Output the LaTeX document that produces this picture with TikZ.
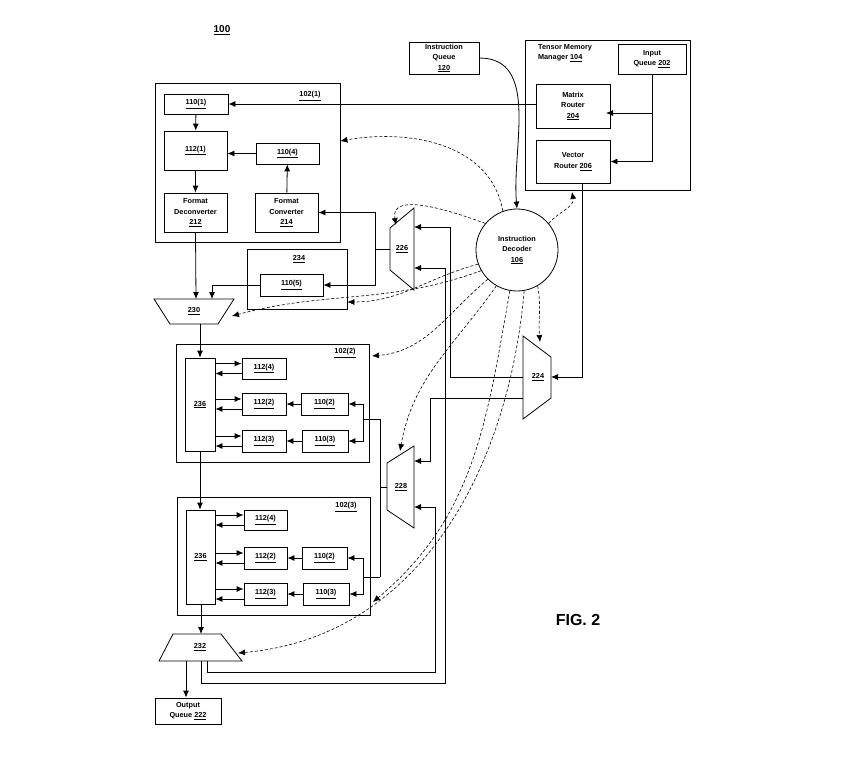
\documentclass[tikz,border=0pt]{standalone}
\usepackage{fontspec}
\setmainfont{Liberation Sans}
\usetikzlibrary{arrows.meta,calc,positioning}

\tikzset{
  box/.style={draw, thick, align=center, inner sep=0pt, font=\bfseries\fontsize{7.3}{10.5}\selectfont},
  lbl/.style={inner sep=0pt, font=\bfseries\fontsize{7.3}{10.5}\selectfont},
  arr/.style={-{Latex[length=7pt,width=6pt]}, thick},
  ctl/.style={arr, densely dashed, semithick}
}

\begin{document}
\begin{tikzpicture}[x=1pt,y=-1pt]
\useasboundingbox (0,0) rectangle (843,761);

\node[lbl, font=\bfseries\fontsize{10}{11}\selectfont] (fig) at (222,30) {\underline{100}};
\node[inner sep=0pt, font=\bfseries\fontsize{16}{17}\selectfont] (figno) at (578,620) {FIG. 2};

% memory manager side
\node[box, minimum width=70, minimum height=32] (iq) at (444,58) {Instruction\\Queue\\\underline{120}};
\node[box, minimum width=165, minimum height=150] (tmm) at (607.5,115) {};
\node[lbl, align=left] (tmmlbl) at (565,53) {Tensor Memory\\Manager \underline{104}};
\node[box, minimum width=68, minimum height=30] (inq) at (652,59) {Input\\Queue \underline{202}};
\node[box, minimum width=74, minimum height=44] (mrt) at (573,106) {Matrix\\Router\\\underline{204}};
\node[box, minimum width=74, minimum height=43] (vrt) at (573,161.5) {Vector\\Router \underline{206}};
\node[box, circle, minimum size=82] (dec) at (517,250) {Instruction\\Decoder\\\underline{106}};

% tile 102(1)
\node[box, minimum width=185, minimum height=159] (p1) at (247.5,162.5) {};
\node[lbl] (p1lbl) at (310,96) {\underline{102(1)}};
\node[box, minimum width=64, minimum height=20] (q1) at (196,104) {\underline{110(1)}};
\node[box, minimum width=63, minimum height=39] (m1) at (195.5,150.5) {\underline{112(1)}};
\node[box, minimum width=63, minimum height=21] (q4) at (287.5,153.5) {\underline{110(4)}};
\node[box, minimum width=63, minimum height=39] (fd) at (195.5,212.5) {Format\\Deconverter\\\underline{212}};
\node[box, minimum width=63, minimum height=39] (fc) at (286.5,212.5) {Format\\Converter\\\underline{214}};

\node[box, minimum width=100, minimum height=60] (b234) at (297,279) {};
\node[lbl] (b234lbl) at (299,259) {\underline{234}};
\node[box, minimum width=63, minimum height=22] (q5) at (291.5,285) {\underline{110(5)}};

% tile 102(2)
\node[box, minimum width=193, minimum height=118] (p2) at (272.5,403) {};
\node[lbl] (p2lbl) at (345,353) {\underline{102(2)}};
\node[box, minimum width=30, minimum height=93] (s2) at (200,404.5) {\underline{236}};
\node[box, minimum width=44, minimum height=21] (m24) at (264,368.5) {\underline{112(4)}};
\node[box, minimum width=44, minimum height=22] (m22) at (264,404) {\underline{112(2)}};
\node[box, minimum width=47, minimum height=22] (q22) at (324.5,404) {\underline{110(2)}};
\node[box, minimum width=44, minimum height=22] (m23) at (264,441) {\underline{112(3)}};
\node[box, minimum width=46, minimum height=22] (q23) at (325,441) {\underline{110(3)}};

% tile 102(3)
\node[box, minimum width=193, minimum height=118] (p3) at (273.5,556) {};
\node[lbl] (p3lbl) at (346,507) {\underline{102(3)}};
\node[box, minimum width=29, minimum height=94] (s3) at (200.5,557) {\underline{236}};
\node[box, minimum width=43, minimum height=20] (m34) at (265.5,520) {\underline{112(4)}};
\node[box, minimum width=43, minimum height=22] (m32) at (265.5,558) {\underline{112(2)}};
\node[box, minimum width=45, minimum height=22] (q32) at (324.5,558) {\underline{110(2)}};
\node[box, minimum width=43, minimum height=22] (m33) at (265.5,594) {\underline{112(3)}};
\node[box, minimum width=46, minimum height=22] (q33) at (326,594) {\underline{110(3)}};

\node[box, minimum width=66, minimum height=26] (oq) at (188,711) {Output\\Queue \underline{222}};

% multiplexers
\draw[thick] (154,299) -- (234,299) -- (218,324) -- (170,324) -- cycle;
\node[lbl] (m230) at (194,311) {\underline{230}};
\draw[thick] (173,634) -- (221,634) -- (242,661) -- (159,661) -- cycle;
\node[lbl] (m232) at (200,647) {\underline{232}};
\draw[thick] (390,228) -- (414,208) -- (414,290) -- (390,270) -- cycle;
\node[lbl] (m226) at (402,249) {\underline{226}};
\draw[thick] (523,336) -- (551,357) -- (551,398) -- (523,419) -- cycle;
\node[lbl] (m224) at (538,377) {\underline{224}};
\draw[thick] (387,463) -- (414,446) -- (414,528) -- (387,510) -- cycle;
\node[lbl] (m228) at (401,487) {\underline{228}};
\coordinate (in226a) at (414,227);
\coordinate (in226b) at (414,268);
\coordinate (out226) at (390,249);
\coordinate (in224) at (551,377);
\coordinate (out224a) at (523,377);
\coordinate (out224b) at (523,398);
\coordinate (in228a) at (414,461);
\coordinate (in228b) at (414,507);
\coordinate (out228) at (387,487);
\coordinate (in230a) at (196,299);
\coordinate (in230b) at (212,299);
\coordinate (out230) at (200,324);
\coordinate (in232) at (201,634);
\coordinate (out232a) at (186,661);
\coordinate (out232b) at (201,661);
\coordinate (out232c) at (207,661);

% solid data paths
\draw[arr] (inq.south) |- (vrt.east);
\draw[arr] (inq.south |- mrt.east) ++(0,7) -- ++(-46,0);
\draw[arr] (mrt.west |- q1.east) -- (q1.east);
\draw[arr] (q1) -- (m1);
\draw[arr] (m1) -- (fd);
\draw[arr] (q4) -- (q4 -| m1.east);
\draw[arr] (fc) -- (q4);
\draw[arr] (fd.south) -- (in230a);
\draw[arr] (q5.west) -| (in230b);
\draw[thick] (out226) -- ++(-15,0) coordinate (j226);
\draw[arr] (j226) |- (fc.east);
\draw[arr] (j226) |- (q5.east);
\draw[arr] (iq.east) to[out=0,in=95] (dec.north);
\draw[arr] (vrt.south -| 582,0) |- (in224);
\draw[arr] (out224a) -- (450,377) |- (in226a);
\draw[arr] (out224b) -- (430,398) |- (in228a);
\draw[arr] (out232b) -- (201,683) -- (445,683) |- (in226b);
\draw[arr] (out232c) -- (207,672) -- (435,672) |- (in228b);
\draw[arr] (out232a) -- (oq.north -| out232a);
\draw[arr] (out230) -- (s2.north -| out230);
\draw[arr] (s2.south -| out230) -- (s3.north -| out230);
\draw[arr] (s3.south -| in232) -- (in232);
\draw[thick] (out228) -- (380,487) coordinate (j228);
\draw[thick] (380,419) -- (380,577);
\draw[thick] (380,419) -- (363,419);
\draw[arr] (363,419) |- (q22.east);
\draw[arr] (363,419) |- (q23.east);
\draw[thick] (380,577) -- (363,577);
\draw[arr] (363,577) |- (q32.east);
\draw[arr] (363,577) |- (q33.east);
\foreach \s/\m in {s2/m24, s2/m22, s2/m23, s3/m34, s3/m32, s3/m33} {
  \draw[arr] ([yshift=5]\m.west -| \s.east) -- ([yshift=5]\m.west);
  \draw[arr] ([yshift=-5]\m.west) -- ([yshift=-5]\m.west -| \s.east);
}
\draw[arr] (q22) -- (m22);
\draw[arr] (q23) -- (m23);
\draw[arr] (q32) -- (m32);
\draw[arr] (q33) -- (m33);

% control lines from the decoder
\draw[ctl] (dec.110) to[out=100,in=10] (p1.east |- 0,141);
\draw[ctl] (dec.140) to[out=160,in=100] (396,225);
\draw[ctl] (dec.40) to[out=50,in=-80] (572,192);
\draw[ctl] (dec.200) to[out=195,in=0] (b234.east |- 0,302);
\draw[ctl] (dec.210) to[out=200,in=15] (232,316);
\draw[ctl] (dec.225) to[out=220,in=5] (372,356);
\draw[ctl] (dec.300) to[out=-80,in=95] (540,342);
\draw[ctl] (dec.240) to[out=235,in=80] (400,451);
\draw[ctl] (dec.260) to[out=260,in=40] (373,602);
\draw[ctl] (dec.280) to[out=265,in=5] (238,653);
\end{tikzpicture}
\end{document}
